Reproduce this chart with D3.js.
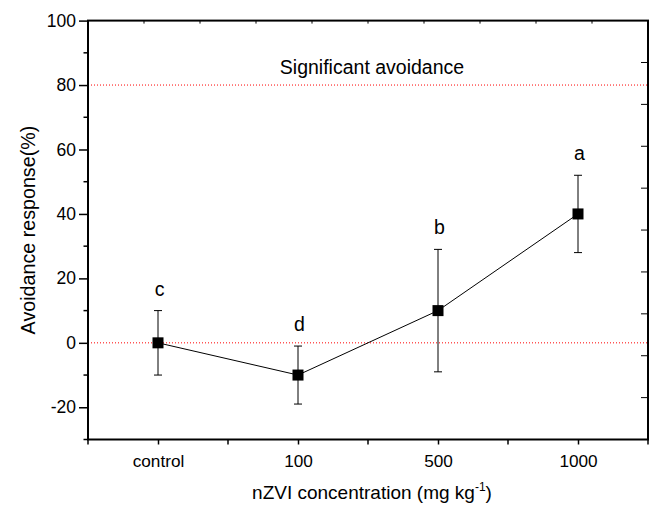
<!DOCTYPE html>
<html>
<head>
<meta charset="utf-8">
<title>Avoidance response</title>
<script src="https://d3js.org/d3.v7.min.js"></script>
<style>
body{margin:0;background:#fff;font-family:'Liberation Sans',Arial,sans-serif;}
svg text{fill:#000;}
</style>
</head>
<body>
<svg id="chart" width="651" height="505"></svg>
<script>
// data
var categories = ["control", "100", "500", "1000"];
var means = [0, -10, 10, 40];
var errLow = [-10, -19, -9, 28];
var errHigh = [10, -1, 29, 52];
var letters = ["c", "d", "b", "a"];
var yTicks = [-20, 0, 20, 40, 60, 80, 100];
var refLines = [80, 0];

var svg = d3.select("#chart");
var pL = 88, pR = 648, pT = 20.6, pB = 439.5;

var x = d3.scaleLinear().domain([0.5, 4.5]).range([pL, pR]);
var y = d3.scaleLinear().domain([-30, 100]).range([pB, pT]);

// reference lines
svg.selectAll("line.ref")
  .data(refLines).enter().append("line")
  .attr("class", "ref")
  .attr("x1", pL).attr("x2", pR)
  .attr("y1", function(d){ return y(d); }).attr("y2", function(d){ return y(d); })
  .attr("stroke", "#ff0000").attr("stroke-width", 1)
  .attr("stroke-dasharray", "1,2");

svg.append("text")
  .attr("x", 372).attr("y", 73.5)
  .attr("text-anchor", "middle")
  .style("font-size", "19.5px")
  .text("Significant avoidance");

// left axis
var yAxis = d3.axisLeft(y).tickValues(yTicks).tickSize(9).tickPadding(3)
  .tickFormat(function(d){ return String(d); });
var gy = svg.append("g").attr("transform", "translate(" + pL + ",0)").call(yAxis);
gy.selectAll(".tick text").style("font-size", "17.5px").style("font-family", "'Liberation Sans',Arial,sans-serif");
gy.select(".domain").remove();
var yMinor = d3.range(-30, 101, 20);
svg.selectAll("line.ymin").data(yMinor).enter().append("line")
  .attr("x1", pL - 4.5).attr("x2", pL)
  .attr("y1", function(d){ return y(d); }).attr("y2", function(d){ return y(d); })
  .attr("stroke", "#000").attr("stroke-width", 1.5);

// bottom axis
var xAxis = d3.axisBottom(x).tickValues([1, 2, 3, 4])
  .tickFormat(function(d){ return categories[d - 1]; })
  .tickSize(5).tickPadding(10);
var gx = svg.append("g").attr("transform", "translate(0," + pB + ")").call(xAxis);
gx.selectAll(".tick text").style("font-size", "17.2px").style("font-family", "'Liberation Sans',Arial,sans-serif");
gx.select(".domain").remove();
svg.selectAll("line.xmin").data([0.5, 1.5, 2.5, 3.5, 4.5]).enter().append("line")
  .attr("x1", function(d){ return x(d); }).attr("x2", function(d){ return x(d); })
  .attr("y1", pB).attr("y2", pB + 5)
  .attr("stroke", "#000").attr("stroke-width", 1.5);
svg.selectAll(".tick line").attr("stroke-width", 1.5);

// top and right axes with inward ticks
var topScale = d3.scaleLinear().domain([0, 10]).range([pL, pR]);
svg.selectAll("line.ttick").data(d3.range(1, 10)).enter().append("line")
  .attr("x1", function(d){ return topScale(d); }).attr("x2", function(d){ return topScale(d); })
  .attr("y1", pT).attr("y2", pT + 3)
  .attr("stroke", "#000").attr("stroke-width", 1);
var rightScale = d3.scaleLinear().domain([0, 10]).range([pT, pB]);
svg.selectAll("line.rtick").data(d3.range(1, 10)).enter().append("line")
  .attr("x1", pR - 7).attr("x2", pR)
  .attr("y1", function(d){ return rightScale(d); }).attr("y2", function(d){ return rightScale(d); })
  .attr("stroke", "#000").attr("stroke-width", 1);

// frame
svg.append("rect")
  .attr("x", pL).attr("y", pT)
  .attr("width", pR - pL).attr("height", pB - pT)
  .attr("fill", "none").attr("stroke", "#000").attr("stroke-width", 2);

// line
var line = d3.line()
  .x(function(d, i){ return x(i + 1); })
  .y(function(d){ return y(d); });
svg.append("path").datum(means)
  .attr("d", line).attr("fill", "none")
  .attr("stroke", "#000").attr("stroke-width", 1);

// error bars
var eb = svg.selectAll("g.err").data(means).enter().append("g");
eb.append("line")
  .attr("x1", function(d, i){ return x(i + 1); }).attr("x2", function(d, i){ return x(i + 1); })
  .attr("y1", function(d, i){ return y(errLow[i]); }).attr("y2", function(d, i){ return y(errHigh[i]); })
  .attr("stroke", "#000").attr("stroke-width", 1);
[errLow, errHigh].forEach(function(arr){
  eb.append("line")
    .attr("x1", function(d, i){ return x(i + 1) - 4; }).attr("x2", function(d, i){ return x(i + 1) + 4; })
    .attr("y1", function(d, i){ return y(arr[i]); }).attr("y2", function(d, i){ return y(arr[i]); })
    .attr("stroke", "#000").attr("stroke-width", 1);
});

// markers
svg.selectAll("rect.pt").data(means).enter().append("rect")
  .attr("x", function(d, i){ return x(i + 1) - 5.5; })
  .attr("y", function(d){ return y(d) - 5.5; })
  .attr("width", 11).attr("height", 11).attr("fill", "#000");

// letters
svg.selectAll("text.let").data(letters).enter().append("text")
  .attr("x", function(d, i){ return x(i + 1) + 1.5; })
  .attr("y", function(d, i){ return y(errHigh[i]) - 15; })
  .attr("text-anchor", "middle")
  .style("font-size", "19.5px")
  .text(function(d){ return d; });

// axis titles
svg.append("text")
  .attr("transform", "translate(35," + ((pT + pB) / 2) + ") rotate(-90)")
  .attr("text-anchor", "middle")
  .style("font-size", "19.7px")
  .text("Avoidance response(%)");

var xt = svg.append("text")
  .attr("x", 372).attr("y", 499)
  .attr("text-anchor", "middle")
  .style("font-size", "19px");
xt.append("tspan").text("nZVI concentration (mg kg");
xt.append("tspan").attr("dy", -8).style("font-size", "12px").text("-1");
xt.append("tspan").attr("dy", 8).text(")");
</script>
</body>
</html>
